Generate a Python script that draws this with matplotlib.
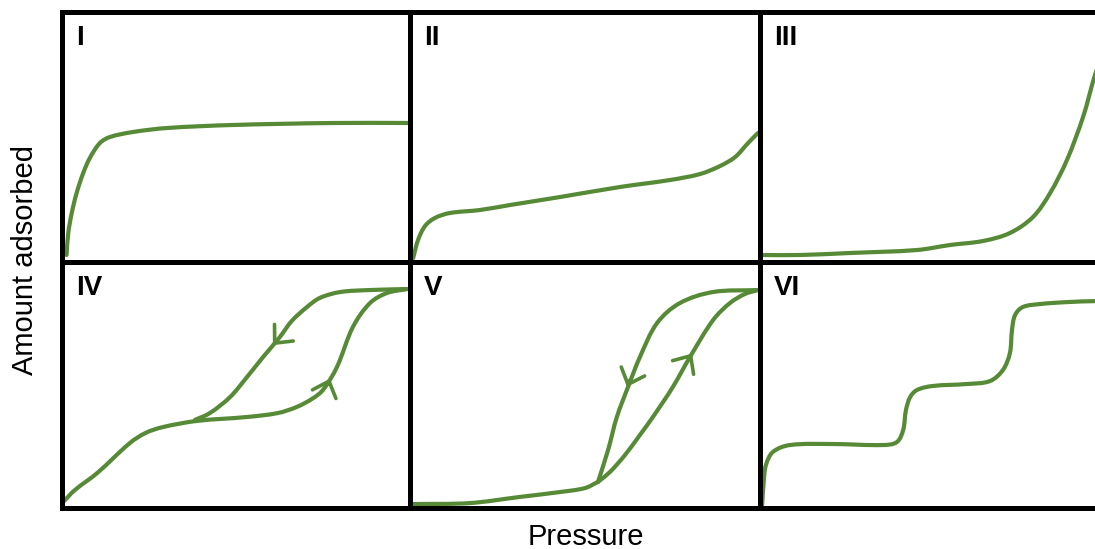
import numpy as np
import matplotlib.pyplot as plt
from matplotlib.path import Path
from matplotlib.patches import PathPatch

# panel values, x and y in percent of each panel
panel_labels = ["I", "II", "III", "IV", "V", "VI"]

type1_x = [1.3, 1.8, 2.8, 4.2, 6.1, 8.0, 10.9, 13.8, 20.4, 30.2, 49.0, 78.0, 100.0]
type1_y = [2.8, 11.6, 19.6, 27.6, 35.6, 41.6, 47.6, 50.0, 52.0, 53.6, 54.8, 55.6, 55.6]

type2_x = [0.9, 2.3, 4.3, 7.1, 11.4, 20.0, 28.6, 42.9, 60.0, 74.3, 82.9, 88.6, 92.9, 96.6, 99.4]
type2_y = [1.6, 8.8, 14.4, 17.6, 19.6, 20.8, 22.8, 26.0, 30.0, 32.8, 35.2, 38.4, 42.0, 47.6, 51.6]

type3_x = [0.6, 11.4, 25.7, 44.9, 54.3, 63.7, 71.4, 78.0, 82.9, 87.7, 92.3, 95.7, 98.6]
type3_y = [2.8, 2.8, 3.6, 4.8, 6.8, 8.4, 11.6, 18.0, 27.6, 40.8, 58.0, 74.8, 86.8]

type4_ads_x = [0.3, 3.7, 10.1, 19.5, 24.0, 29.0, 38.8, 53.2, 62.0, 67.5, 72.0, 75.0, 79.0, 83.6, 88.5, 93.4, 99.1]
type4_ads_y = [2.4, 7.3, 14.2, 26.4, 30.5, 32.9, 35.4, 37.0, 38.6, 41.1, 44.5, 48.0, 57.3, 73.6, 83.3, 87.4, 89.0]
type4_des_x = [99.1, 88.5, 80.0, 74.1, 70.4, 66.0, 62.6, 57.8, 53.2, 48.3, 42.5, 38.2]
type4_des_y = [89.0, 88.6, 87.8, 85.4, 81.7, 76.0, 69.5, 61.4, 53.3, 45.1, 38.6, 35.8]
type4_arrow_x = [60.6, 77.0]   # arrow tips
type4_arrow_y = [66.2, 52.6]
type4_arrow_dx = [-1.0, 0.6]   # direction along the branch
type4_arrow_dy = [-1.6, 2.3]

type5_base_x = [0.9, 17.1, 31.4, 42.9, 50.0, 53.7]
type5_base_y = [1.6, 2.0, 4.5, 6.5, 8.1, 10.6]
type5_ads_x = [53.7, 57.1, 61.4, 65.7, 69.4, 75.1, 80.0, 86.6, 91.4, 95.7, 99.4]
type5_ads_y = [10.6, 14.6, 21.5, 29.7, 37.0, 49.2, 61.4, 76.4, 83.3, 87.0, 88.6]
type5_des_x = [99.4, 86.6, 77.1, 70.6, 65.7, 62.3, 59.1, 56.6, 53.7]
type5_des_y = [88.6, 87.8, 83.3, 75.2, 61.4, 49.2, 37.0, 23.6, 10.6]
type5_arrow_x = [62.0, 80.6]
type5_arrow_y = [49.2, 62.8]
type5_arrow_dx = [-0.7, 1.0]
type5_arrow_dy = [-2.6, 2.2]

type6_x = [0.6, 1.1, 1.7, 3.7, 8.6, 20.9, 35.1, 39.1, 40.9, 41.7, 42.9, 44.9, 49.4,
           59.1, 65.7, 69.4, 71.4, 72.0, 72.9, 75.1, 80.0, 87.7, 95.7, 100.0]
type6_y = [1.2, 11.4, 17.5, 22.8, 25.6, 26.0, 25.6, 26.8, 31.7, 39.8, 45.1, 48.0, 49.6,
           50.4, 51.6, 56.1, 63.0, 72.4, 78.5, 81.7, 82.9, 83.7, 84.1, 84.1]

GREEN = "#578a36"
W, H = 1095, 549

# panel frames in pixels: left, top, width, height
col_left = [62, 410, 760]
col_width = [348, 350, 350]
row_top = [12, 262]
row_height = [250, 246]

plt.rcParams["font.family"] = ["Liberation Sans", "DejaVu Sans"]
fig = plt.figure(figsize=(W / 100, H / 100), dpi=100)

axes = []
for r in range(2):
    for c in range(3):
        ax = fig.add_axes([col_left[c] / W, 1 - (row_top[r] + row_height[r]) / H,
                           col_width[c] / W, row_height[r] / H])
        ax.set_xlim(0, 100)
        ax.set_ylim(0, 100)
        ax.set_xticks([])
        ax.set_yticks([])
        for sp in ax.spines.values():
            sp.set_linewidth(3.6)
            sp.set_color("black")
        axes.append(ax)


def smooth_curve(ax, xs, ys):
    # draw a smooth bezier path through the read points (no new data points)
    scale = np.array([3.5, 2.5])  # approx px per percent, keeps tangents isotropic
    p = np.column_stack([xs, ys]) * scale
    n = len(p)
    t = np.zeros_like(p)
    for i in range(n):
        a = p[min(i + 1, n - 1)] - p[max(i - 1, 0)]
        t[i] = a / (np.hypot(*a) + 1e-9)
    verts = [p[0]]
    codes = [Path.MOVETO]
    for i in range(n - 1):
        d = np.hypot(*(p[i + 1] - p[i])) / 3
        verts += [p[i] + t[i] * d, p[i + 1] - t[i + 1] * d, p[i + 1]]
        codes += [Path.CURVE4] * 3
    verts = np.array(verts) / scale
    ax.add_patch(PathPatch(Path(verts, codes), fill=False, edgecolor=GREEN,
                           linewidth=3.0, capstyle="round", joinstyle="round"))


smooth_curve(axes[0], type1_x, type1_y)
smooth_curve(axes[1], type2_x, type2_y)
smooth_curve(axes[2], type3_x, type3_y)
smooth_curve(axes[3], type4_ads_x, type4_ads_y)
smooth_curve(axes[3], type4_des_x, type4_des_y)
smooth_curve(axes[4], type5_base_x, type5_base_y)
smooth_curve(axes[4], type5_ads_x, type5_ads_y)
smooth_curve(axes[4], type5_des_x, type5_des_y)
smooth_curve(axes[5], type6_x, type6_y)


def add_arrows(ax, xs, ys, dxs, dys):
    for x, y, dx, dy in zip(xs, ys, dxs, dys):
        ax.annotate("", xy=(x, y), xytext=(x - dx, y - dy),
                    arrowprops=dict(arrowstyle="->,head_length=0.5,head_width=0.45",
                                    color=GREEN, lw=2.6, mutation_scale=20,
                                    shrinkA=0, shrinkB=0))


add_arrows(axes[3], type4_arrow_x, type4_arrow_y, type4_arrow_dx, type4_arrow_dy)
add_arrows(axes[4], type5_arrow_x, type5_arrow_y, type5_arrow_dx, type5_arrow_dy)

for ax, lab in zip(axes, panel_labels):
    ax.annotate(lab, xy=(0, 1), xycoords="axes fraction", xytext=(14, -13),
                textcoords="offset pixels", fontsize=20, fontweight="bold",
                va="top", ha="left")

fig.text(25 / W, 1 - 260 / H, "Amount adsorbed", rotation=90, fontsize=21,
         ha="center", va="center")
fig.text(586 / W, 1 - 537 / H, "Pressure", fontsize=21, ha="center", va="center")

fig.savefig("out.png", dpi=100)
